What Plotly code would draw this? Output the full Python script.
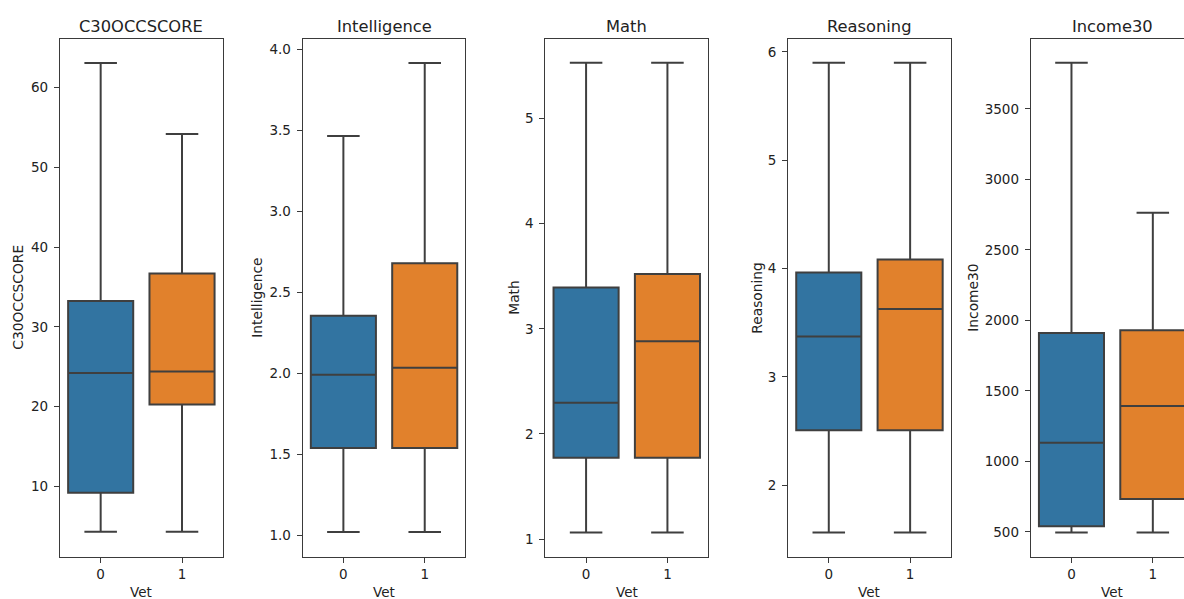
import plotly.graph_objects as go

# ---- data ----
variables = ["C30OCCSCORE", "Intelligence", "Math", "Reasoning", "Income30"]
vet_groups = ["0", "1"]

lower_whisker = {
    "C30OCCSCORE": [4.3, 4.3],
    "Intelligence": [1.023, 1.023],
    "Math": [1.063, 1.063],
    "Reasoning": [1.562, 1.562],
    "Income30": [495, 495],
}
q1_vals = {
    "C30OCCSCORE": [9.2, 20.25],
    "Intelligence": [1.542, 1.542],
    "Math": [1.773, 1.773],
    "Reasoning": [2.506, 2.506],
    "Income30": [540, 732],
}
median_vals = {
    "C30OCCSCORE": [24.2, 24.4],
    "Intelligence": [1.993, 2.037],
    "Math": [2.297, 2.881],
    "Reasoning": [3.373, 3.627],
    "Income30": [1131, 1393],
}
q3_vals = {
    "C30OCCSCORE": [33.25, 36.7],
    "Intelligence": [2.358, 2.682],
    "Math": [3.392, 3.52],
    "Reasoning": [3.963, 4.083],
    "Income30": [1910, 1929],
}
upper_whisker = {
    "C30OCCSCORE": [63.1, 54.2],
    "Intelligence": [3.468, 3.918],
    "Math": [5.53, 5.53],
    "Reasoning": [5.90, 5.90],
    "Income30": [3827, 2763],
}
y_ticks = {
    "C30OCCSCORE": [10, 20, 30, 40, 50, 60],
    "Intelligence": [1.0, 1.5, 2.0, 2.5, 3.0, 3.5, 4.0],
    "Math": [1, 2, 3, 4, 5],
    "Reasoning": [2, 3, 4, 5, 6],
    "Income30": [500, 1000, 1500, 2000, 2500, 3000, 3500],
}
y_tick_format = {
    "C30OCCSCORE": "d",
    "Intelligence": ".1f",
    "Math": "d",
    "Reasoning": "d",
    "Income30": "d",
}
y_ranges = {
    "C30OCCSCORE": [1.2, 66.1],
    "Intelligence": [0.872, 4.066],
    "Math": [0.835, 5.755],
    "Reasoning": [1.34, 6.12],
    "Income30": [325, 3995],
}
x_label = "Vet"

# ---- styling / layout ----
W, H = 1184, 599
colors = ["#3274a1", "#e1812c"]
line_col = "#3f3f3f"
frame_col = "#3a3a3a"
text_col = "#222222"
font_family = "DejaVu Sans"

panel_left = [60, 302.7, 545.4, 788.1, 1030.8]
panel_w = 162.7
top_px, bot_px = 39, 556.5
ylabel_x = [18, 257, 514, 757, 973]

fig = go.Figure()
annotations = []

for i, var in enumerate(variables):
    ax = "" if i == 0 else str(i + 1)
    xref, yref = "x" + ax, "y" + ax
    x0 = panel_left[i] / W
    x1 = min((panel_left[i] + panel_w) / W, 1.0)
    visible_frac = (x1 * W - panel_left[i]) / panel_w
    xr = [-0.5, -0.5 + 2.0 * visible_frac]

    for g, grp in enumerate(vet_groups):
        fig.add_trace(go.Box(
            x=[g],
            q1=[q1_vals[var][g]],
            median=[median_vals[var][g]],
            q3=[q3_vals[var][g]],
            lowerfence=[lower_whisker[var][g]],
            upperfence=[upper_whisker[var][g]],
            width=0.8,
            whiskerwidth=0.5,
            fillcolor=colors[g],
            line=dict(color=line_col, width=2),
            boxpoints=False,
            showlegend=False,
            name=grp,
            xaxis=xref,
            yaxis=yref,
        ))

    is_last = i == len(variables) - 1
    fig.layout["xaxis" + ax] = dict(
        domain=[x0, x1],
        range=xr,
        tickmode="array",
        tickvals=list(range(len(vet_groups))),
        ticktext=vet_groups,
        showline=True, mirror=True, linecolor=frame_col, linewidth=1.2,
        ticks="outside", ticklen=5, tickcolor=frame_col, tickwidth=1.2,
        showgrid=False, zeroline=False, automargin=False,
        tickfont=dict(family=font_family, size=13.5, color=text_col),
        anchor=yref, fixedrange=True,
    )
    fig.layout["yaxis" + ax] = dict(
        domain=[1 - bot_px / H, 1 - top_px / H],
        range=y_ranges[var],
        tickmode="array",
        tickvals=y_ticks[var],
        tickformat=y_tick_format[var],
        showline=True, mirror=(not is_last), linecolor=frame_col, linewidth=1.2,
        ticks="outside", ticklen=5, tickcolor=frame_col, tickwidth=1.2,
        ticklabelstandoff=3,
        showgrid=False, zeroline=False, automargin=False,
        tickfont=dict(family=font_family, size=13.5, color=text_col),
        anchor=xref, fixedrange=True,
    )

    cx = (panel_left[i] + panel_w / 2) / W
    annotations.append(dict(
        text=var, x=cx, y=1 - 26 / H, xref="paper", yref="paper",
        xanchor="center", yanchor="middle", showarrow=False,
        font=dict(family=font_family, size=16.3, color=text_col),
    ))
    annotations.append(dict(
        text=x_label, x=cx, y=1 - 592 / H, xref="paper", yref="paper",
        xanchor="center", yanchor="middle", showarrow=False,
        font=dict(family=font_family, size=13.5, color=text_col),
    ))
    annotations.append(dict(
        text=var, x=ylabel_x[i] / W, y=1 - (top_px + bot_px) / 2 / H,
        xref="paper", yref="paper", textangle=-90,
        xanchor="center", yanchor="middle", showarrow=False,
        font=dict(family=font_family, size=13.8, color=text_col),
    ))

fig.update_layout(
    width=W, height=H,
    margin=dict(l=0, r=0, t=0, b=0),
    paper_bgcolor="white", plot_bgcolor="white",
    boxmode="overlay",
    annotations=annotations,
    template="none",
    showlegend=False,
)

fig.write_html(
    "out.html",
    config={"displayModeBar": False},
    post_script="document.body.style.margin='0';document.body.style.overflow='hidden';",
)
